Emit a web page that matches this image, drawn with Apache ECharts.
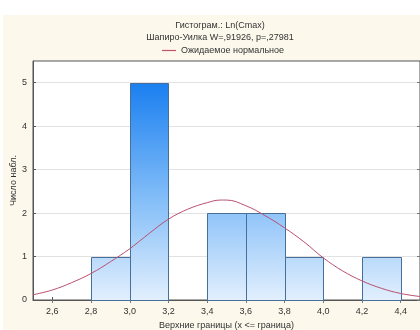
<!DOCTYPE html>
<html>
<head>
<meta charset="utf-8">
<script src="https://cdn.jsdelivr.net/npm/echarts@6/dist/echarts.min.js"></script>
<style>
html,body{margin:0;padding:0;background:#fff;}
#bg{position:absolute;left:3px;top:15px;width:417px;height:315px;background:#fcf8ec;}
#chart{position:absolute;left:0;top:0;width:420px;height:330px;}
</style>
</head>
<body>
<div id="bg"></div>
<div id="chart"></div>
<script>
// Histogram bins (upper bounds) and counts
var binLower = [2.8, 3.0, 3.2, 3.4, 3.6, 3.8, 4.0, 4.2];
var binUpper = [3.0, 3.2, 3.4, 3.6, 3.8, 4.0, 4.2, 4.4];
var counts   = [1, 5, 0, 2, 2, 1, 0, 1];
// Expected normal curve
var curveX = [2.5, 2.6, 2.7, 2.8, 2.9, 3.0, 3.1, 3.2, 3.3, 3.4, 3.47, 3.5, 3.6, 3.7, 3.8, 3.9, 4.0, 4.1, 4.2, 4.3, 4.4, 4.5];
var curveY = [0.12, 0.23, 0.40, 0.61, 0.88, 1.18, 1.53, 1.86, 2.09, 2.24, 2.30, 2.30, 2.17, 1.94, 1.66, 1.34, 0.97, 0.67, 0.44, 0.27, 0.15, 0.08];
var xTicks = [2.6, 2.8, 3.0, 3.2, 3.4, 3.6, 3.8, 4.0, 4.2, 4.4];
var yTicks = [0, 1, 2, 3, 4, 5];
var title1 = 'Гистограм.: Ln(Cmax)';
var title2 = 'Шапиро-Уилка W=,91926, p=,27981';
var legendName = 'Ожидаемое нормальное';
var xName = 'Верхние границы (x <= граница)';
var yName = 'Число набл.';

var font = 'Liberation Sans, Arial, sans-serif';
var txt = '#333';

var barData = binLower.map(function (lo, i) { return [lo, binUpper[i], counts[i]]; })
  .filter(function (d) { return d[2] > 0; });
var lineData = curveX.map(function (x, i) { return [x, curveY[i]]; });

function fmt(v) { return v.toFixed(1).replace('.', ','); }

var chart = echarts.init(document.getElementById('chart'), null, { renderer: 'canvas' });
chart.setOption({
  animation: false,
  backgroundColor: 'transparent',
  textStyle: { fontFamily: font },
  title: [
    { text: title1, left: 220, top: 21, textAlign: 'center', padding: 0,
      textStyle: { fontSize: 9, fontWeight: 'normal', color: txt, fontFamily: font } },
    { text: title2, left: 220, top: 33, textAlign: 'center', padding: 0,
      textStyle: { fontSize: 9, fontWeight: 'normal', color: txt, fontFamily: font } }
  ],
  legend: {
    data: [{ name: legendName, icon: 'rect' }],
    left: 162, top: 46, itemWidth: 14, itemHeight: 1.2, itemGap: 5,
    textStyle: { fontSize: 9, color: txt, fontFamily: font, padding: [0, 0, 0, 0] },
    padding: 0
  },
  grid: { left: 33, top: 61, right: 0, bottom: 30, show: true, backgroundColor: '#fff',
          borderColor: '#555', borderWidth: 1, containLabel: false, outerBoundsMode: 'none' },
  xAxis: [
    { type: 'value', min: 2.5, max: 4.5, position: 'bottom',
      name: xName, nameLocation: 'middle', nameGap: 21, nameMoveOverlap: false,
      nameTextStyle: { fontSize: 9, color: txt, fontFamily: font },
      axisLine: { show: true, onZero: false, lineStyle: { color: '#555', width: 1 } },
      axisTick: { show: true, inside: true, length: 3, customValues: xTicks, lineStyle: { color: '#555' } },
      axisLabel: { customValues: xTicks, formatter: fmt, fontSize: 9, color: txt, margin: 7, fontFamily: font },
      splitLine: { show: false } },
    { type: 'value', min: 2.5, max: 4.5, position: 'top',
      axisLine: { show: false },
      axisTick: { show: true, inside: true, length: 3, customValues: xTicks, lineStyle: { color: '#777' } },
      axisLabel: { show: false },
      splitLine: { show: false } }
  ],
  yAxis: [
    { type: 'value', min: 0, max: 5.5, interval: 1, position: 'left',
      name: yName, nameLocation: 'middle', nameGap: 15, nameRotate: 90, nameMoveOverlap: false,
      nameTextStyle: { fontSize: 9, color: txt, fontFamily: font },
      axisLine: { show: true, lineStyle: { color: '#555', width: 1 } },
      axisTick: { show: true, inside: true, length: 3, customValues: yTicks, lineStyle: { color: '#555' } },
      axisLabel: { customValues: yTicks, fontSize: 9, color: txt, margin: 6, fontFamily: font },
      splitLine: { show: true, lineStyle: { color: '#e2e2e2', width: 1 } } },
    { type: 'value', min: 0, max: 5.5, position: 'right',
      axisLine: { show: false },
      axisTick: { show: true, inside: true, length: 3, customValues: yTicks, lineStyle: { color: '#777' } },
      axisLabel: { show: false },
      splitLine: { show: false } }
  ],
  series: [
    { type: 'custom', name: 'bars', xAxisIndex: 0, yAxisIndex: 0, z: 2,
      data: barData,
      encode: { x: [0, 1], y: 2 },
      renderItem: function (params, api) {
        var lo = api.coord([api.value(0), api.value(2)]);
        var hi = api.coord([api.value(1), 0]);
        var top5 = api.coord([2.5, 5])[1];
        var base = api.coord([2.5, 0])[1];
        var x = Math.round(lo[0]) + 0.5, y = Math.round(lo[1]) + 0.5;
        var w = Math.round(hi[0]) - Math.round(lo[0]);
        var h = Math.round(hi[1]) - Math.round(lo[1]);
        return {
          type: 'rect',
          shape: { x: x, y: y, width: w, height: h },
          style: {
            fill: new echarts.graphic.LinearGradient(0, top5, 0, base, [
              { offset: 0, color: '#1a7ff0' },
              { offset: 0.55, color: '#86bff8' },
              { offset: 1, color: '#e2effd' }
            ], true),
            stroke: '#46709a', lineWidth: 1
          }
        };
      }
    },
    { type: 'line', name: legendName, xAxisIndex: 0, yAxisIndex: 0, z: 3,
      data: lineData, smooth: 0.4, showSymbol: false, symbol: 'none',
      lineStyle: { color: '#b8506e', width: 1 },
      itemStyle: { color: '#c0506e' } }
  ]
});
</script>
</body>
</html>
